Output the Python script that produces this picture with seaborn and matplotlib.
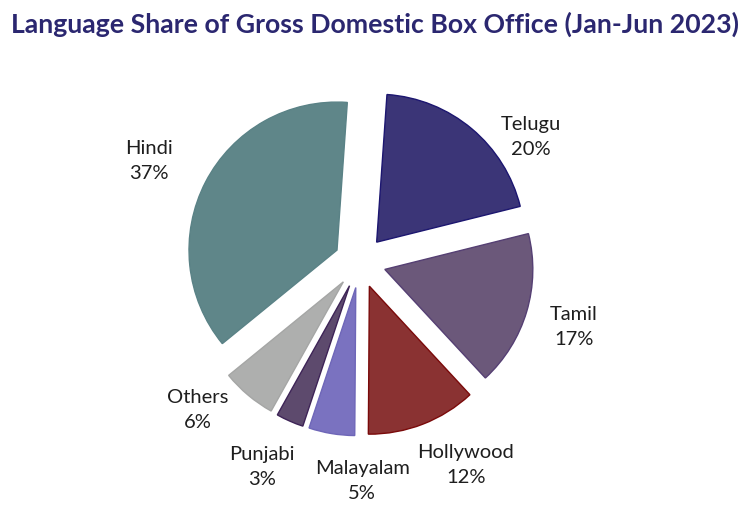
import matplotlib
matplotlib.use("Agg")
import matplotlib.pyplot as plt
import seaborn as sns

languages = ["Telugu", "Tamil", "Hollywood", "Malayalam", "Punjabi", "Others", "Hindi"]
shares = [20, 17, 12, 5, 3, 6, 37]
fill_colors = ["#3b3577", "#6b587a", "#8a3232", "#7a72c0", "#5d4a6d", "#aeafae", "#5f8689"]
edge_colors = ["#1c1670", "#553f73", "#7a0a0a", "#6e66b8", "#3e2457", "#a5a6a5", "#5a8286"]

# label placement (layout, in pie-radius units from the pie centre)
label_xy = [(1.155, 0.845), (1.446, -0.439), (0.716, -1.372), (0.014, -1.480),
            (-0.662, -1.385), (-1.095, -1.0), (-1.426, 0.682)]

sns.set_theme(style="white")
plt.rcParams["font.family"] = ["Lato", "DejaVu Sans"]

fig = plt.figure(figsize=(7.5, 5.15), dpi=100)
ax = fig.add_axes([0, 0, 1, 1])

labels = [f"{n}\n{v}%" for n, v in zip(languages, shares)]
wedges, texts = ax.pie(
    shares,
    labels=labels,
    colors=fill_colors,
    startangle=86,
    counterclock=False,
    explode=[0.175] * len(shares),
    labeldistance=1.31,
    wedgeprops=dict(linewidth=1.0),
    textprops=dict(fontsize=14.5, color="#1e1e1e", ha="center", va="center",
                   multialignment="center", linespacing=1.55),
)
for w, ec in zip(wedges, edge_colors):
    w.set_edgecolor(ec)
for t, xy in zip(texts, label_xy):
    t.set_position(xy)

ax.set_aspect("auto")
ax.set_xlim(-360 / 148, 390 / 148)
ax.set_ylim(-(515 - 262) / 148, 262 / 148)
ax.axis("off")

fig.text(0.5, 1 - 24 / 515, "Language Share of Gross Domestic Box Office (Jan-Jun 2023)",
         ha="center", va="center", fontsize=19.2, fontweight="bold", color="#2b2770")

fig.savefig("out.png", dpi=100)
